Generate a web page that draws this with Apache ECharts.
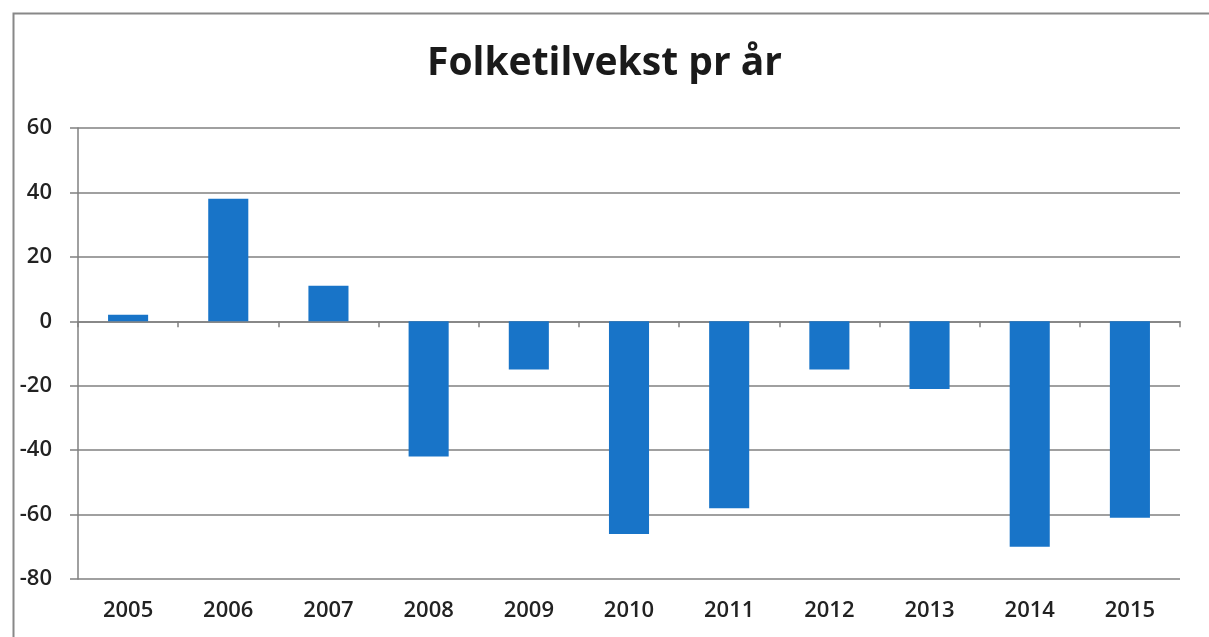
<!DOCTYPE html>
<html>
<head>
<meta charset="utf-8">
<script src="https://cdn.jsdelivr.net/npm/echarts@6/dist/echarts.min.js"></script>
<style>html,body{margin:0;padding:0;background:#fff}#c{width:1209px;height:637px}</style>
</head>
<body>
<div id="c"></div>
<script>
const titleText = 'Folketilvekst pr år';
const categories = ['2005','2006','2007','2008','2009','2010','2011','2012','2013','2014','2015'];
const values = [2, 38, 11, -42, -15, -66, -58, -15, -21, -70, -61];
const yTicks = { min: -80, max: 60, interval: 20 };

const chart = echarts.init(document.getElementById('c'));
const font = '"Open Sans", "Noto Sans", sans-serif';
chart.setOption({
  backgroundColor: '#fff',
  animation: false,
  title: {
    text: titleText, left: 'center', top: 39,
    textStyle: { fontFamily: font, fontSize: 39, fontWeight: 'bold', color: '#1a1a1a' }
  },
  graphic: [{
    type: 'rect', left: 11, top: 11, silent: true,
    shape: { x: 0, y: 0, width: 1210, height: 640 },
    style: { fill: 'none', stroke: '#888', lineWidth: 2 }
  }],
  grid: { left: 78, right: 29, top: 128, bottom: 58 },
  xAxis: [{
    type: 'category', data: categories, position: 'bottom',
    axisLine: { show: false, onZero: false },
    axisTick: { show: false },
    axisLabel: { margin: 21, fontFamily: font, fontSize: 22, fontWeight: 600, color: '#222' }
  }, {
    type: 'category', data: categories, position: 'bottom',
    axisLine: { show: true, onZero: true, lineStyle: { color: '#808080', width: 1.5 } },
    axisTick: { show: true, length: 6, inside: false, lineStyle: { color: '#808080', width: 1.5 } },
    axisLabel: { show: false }
  }],
  yAxis: {
    type: 'value', min: yTicks.min, max: yTicks.max, interval: yTicks.interval,
    axisLine: { show: true, lineStyle: { color: '#808080', width: 1.5 } },
    axisTick: { show: true, length: 8, lineStyle: { color: '#808080', width: 1.5 } },
    splitLine: { show: true, lineStyle: { color: '#808080', width: 1.5 } },
    axisLabel: { margin: 26, fontFamily: font, fontSize: 22, fontWeight: 600, color: '#222' }
  },
  series: [{
    type: 'bar', data: values, xAxisIndex: 0, barWidth: '40%',
    itemStyle: { color: '#1874c8' }
  }]
});
</script>
</body>
</html>
